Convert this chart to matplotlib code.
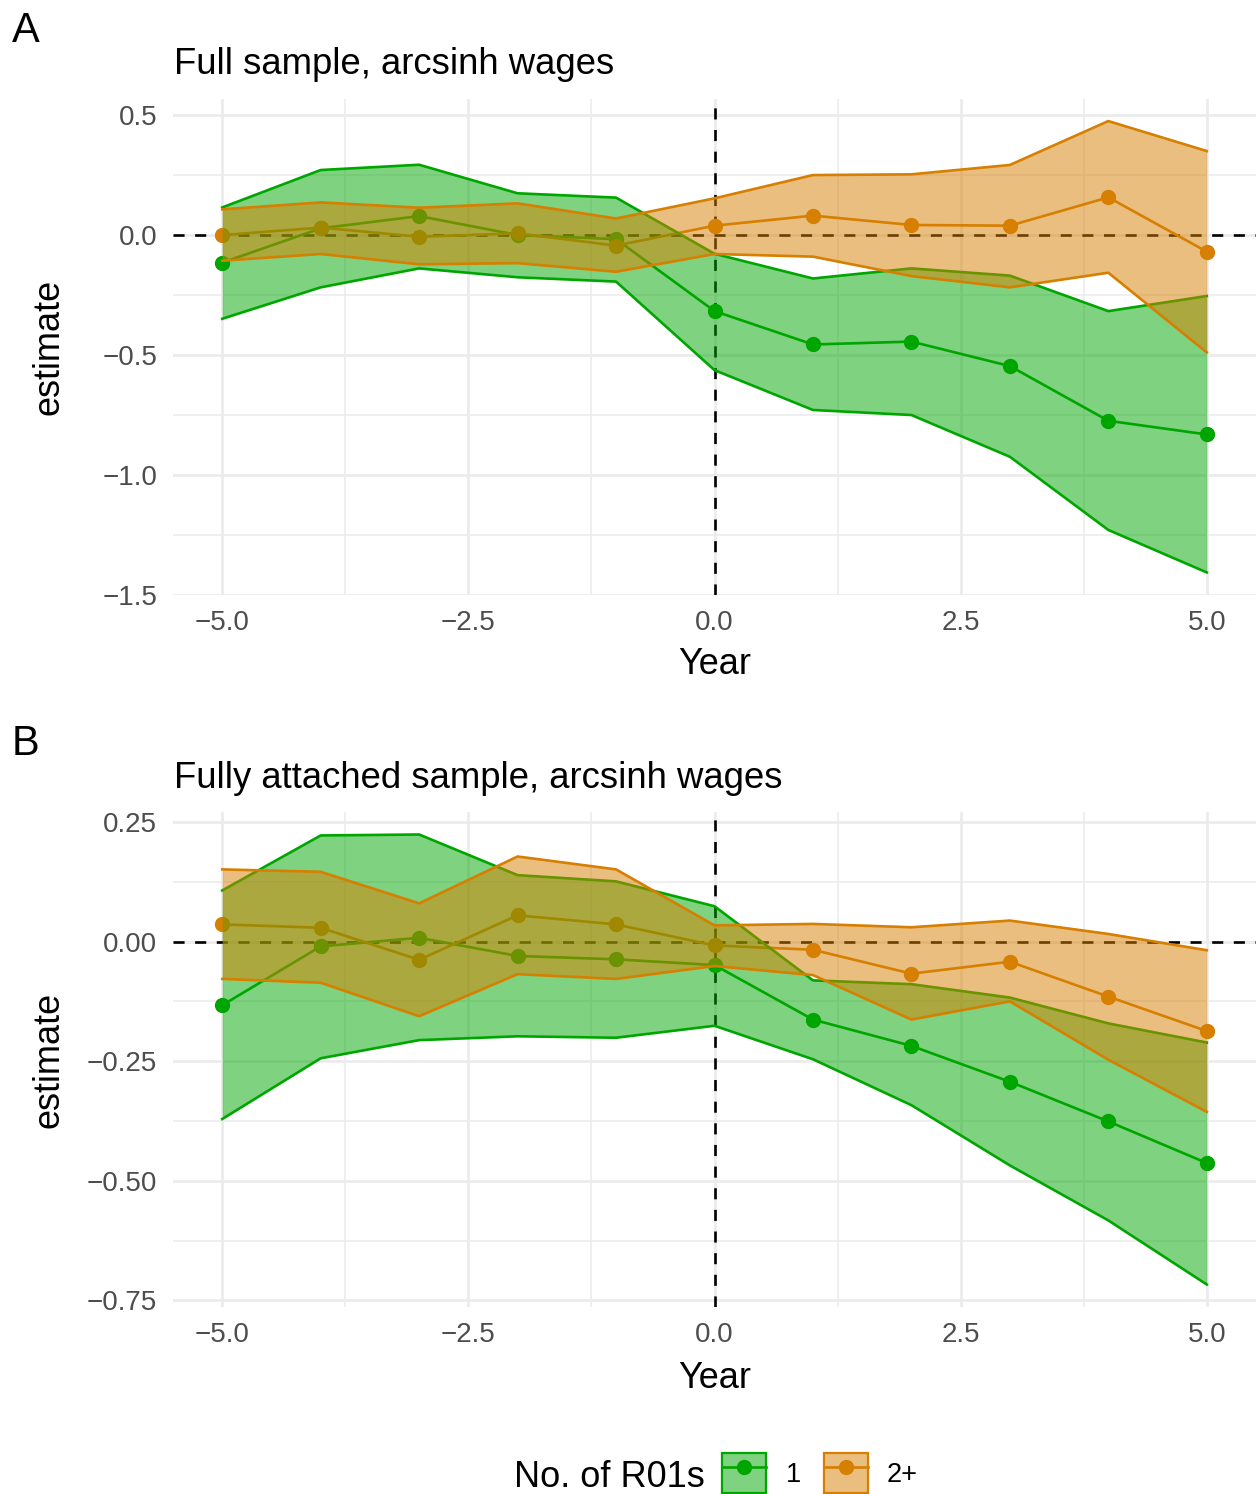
import numpy as np
import matplotlib
matplotlib.use('Agg')
import matplotlib.pyplot as plt
from matplotlib.patches import Patch
from matplotlib.lines import Line2D
from matplotlib.legend_handler import HandlerTuple
from matplotlib.ticker import FixedLocator, FuncFormatter

plt.rcParams['font.family'] = ['Liberation Sans', 'DejaVu Sans']

W, H = 1259, 1494

years = [-5, -4, -3, -2, -1, 0, 1, 2, 3, 4, 5]
groups = ['1', '2+']

# Panel A: full sample
a_est_1 = [-0.115, 0.028, 0.079, 0.0, -0.017, -0.317, -0.456, -0.444, -0.546, -0.774, -0.831]
a_hi_1 = [0.115, 0.271, 0.293, 0.174, 0.156, -0.078, -0.181, -0.139, -0.169, -0.317, -0.254]
a_lo_1 = [-0.349, -0.218, -0.139, -0.176, -0.194, -0.563, -0.729, -0.750, -0.924, -1.229, -1.406]
a_est_2 = [0.0, 0.031, -0.007, 0.007, -0.044, 0.039, 0.081, 0.042, 0.039, 0.157, -0.069]
a_hi_2 = [0.107, 0.136, 0.114, 0.132, 0.069, 0.153, 0.250, 0.253, 0.292, 0.475, 0.350]
a_lo_2 = [-0.107, -0.079, -0.122, -0.117, -0.153, -0.079, -0.090, -0.171, -0.218, -0.157, -0.489]

# Panel B: fully attached sample
b_est_1 = [-0.133, -0.010, 0.008, -0.030, -0.037, -0.049, -0.163, -0.218, -0.293, -0.376, -0.463]
b_hi_1 = [0.107, 0.222, 0.224, 0.139, 0.126, 0.074, -0.081, -0.089, -0.117, -0.171, -0.211]
b_lo_1 = [-0.371, -0.244, -0.206, -0.198, -0.201, -0.176, -0.246, -0.342, -0.468, -0.583, -0.717]
b_est_2 = [0.036, 0.029, -0.038, 0.055, 0.036, -0.008, -0.017, -0.067, -0.042, -0.115, -0.187]
b_hi_2 = [0.151, 0.146, 0.080, 0.178, 0.151, 0.034, 0.037, 0.030, 0.044, 0.016, -0.018]
b_lo_2 = [-0.078, -0.086, -0.156, -0.068, -0.078, -0.051, -0.070, -0.163, -0.125, -0.247, -0.356]

COLORS = {'1': '#00A600', '2+': '#D67F00'}
GRID = '#EBEBEB'
TICK_COLOR = '#4D4D4D'

FONT_TAG = 30
FONT_TITLE = 26.3
FONT_AXIS = 26
FONT_TICK = 20
FONT_LEG = 19.5


def fmt(decimals):
    return FuncFormatter(lambda v, p: f"{v:.{decimals}f}".replace('-', '\u2212'))


def draw_panel(ax, est, hi, lo, yticks, yminor, decimals):
    # points + lines first, ribbons (alpha) on top, like the ggplot layer order
    for g in groups:
        c = COLORS[g]
        ax.plot(years, est[g], color=c, lw=1.9, marker='o', ms=10, zorder=2)
    for i, g in enumerate(groups):
        c = COLORS[g]
        z = 3 + 2 * i
        ax.fill_between(years, lo[g], hi[g], color=c, alpha=0.5, lw=0, zorder=z)
        ax.plot(years, hi[g], color=c, lw=1.9, zorder=z + 0.5)
        ax.plot(years, lo[g], color=c, lw=1.9, zorder=z + 0.5)

    ax.axhline(0, color='black', lw=1.9, ls=(0, (4.2, 4)), zorder=1.5)
    ax.axvline(0, color='black', lw=1.9, ls=(0, (4.2, 4)), zorder=1.5)

    allv = np.concatenate([np.array(v, dtype=float) for g in groups for v in (hi[g], lo[g], est[g])])
    rng = allv.max() - allv.min()
    ax.set_ylim(allv.min() - 0.05 * rng, allv.max() + 0.05 * rng)
    ax.set_xlim(-5.5, 5.5)

    ax.xaxis.set_major_locator(FixedLocator([-5, -2.5, 0, 2.5, 5]))
    ax.xaxis.set_minor_locator(FixedLocator([-3.75, -1.25, 1.25, 3.75]))
    ax.yaxis.set_major_locator(FixedLocator(yticks))
    ax.yaxis.set_minor_locator(FixedLocator(yminor))
    ax.xaxis.set_major_formatter(fmt(1))
    ax.yaxis.set_major_formatter(fmt(decimals))

    ax.grid(True, which='major', color=GRID, lw=1.9, zorder=0)
    ax.grid(True, which='minor', color=GRID, lw=1.1, zorder=0)
    ax.set_axisbelow(True)
    for s in ax.spines.values():
        s.set_visible(False)
    ax.tick_params(axis='both', which='both', length=0, labelsize=FONT_TICK, labelcolor=TICK_COLOR)
    ax.tick_params(axis='y', pad=11.5)
    ax.tick_params(axis='x', pad=11)


fig = plt.figure(figsize=(W / 100, H / 100), dpi=100)

left = 173 / W
width = (1256 - 173) / W

axA = fig.add_axes([left, 1 - 595 / H, width, (595 - 98.5) / H])
draw_panel(axA,
           {'1': a_est_1, '2+': a_est_2},
           {'1': a_hi_1, '2+': a_hi_2},
           {'1': a_lo_1, '2+': a_lo_2},
           [-1.5, -1.0, -0.5, 0.0, 0.5], [-1.25, -0.75, -0.25, 0.25], 1)

axB = fig.add_axes([left, 1 - 1307 / H, width, (1307 - 812) / H])
draw_panel(axB,
           {'1': b_est_1, '2+': b_est_2},
           {'1': b_hi_1, '2+': b_hi_2},
           {'1': b_lo_1, '2+': b_lo_2},
           [-0.75, -0.5, -0.25, 0.0, 0.25], [-0.625, -0.375, -0.125, 0.125], 2)

xc = (173 + 1256) / 2 / W
# panel tags, titles, axis labels
fig.text(12 / W, 1 - 42 / H, 'A', fontsize=FONT_TAG, va='baseline', ha='left')
fig.text(12 / W, 1 - 755 / H, 'B', fontsize=FONT_TAG, va='baseline', ha='left')
fig.text(174 / W, 1 - 74 / H, 'Full sample, arcsinh wages', fontsize=FONT_TITLE, va='baseline')
fig.text(174 / W, 1 - 788 / H, 'Fully attached sample, arcsinh wages', fontsize=FONT_TITLE, va='baseline')
fig.text(xc, 1 - 674 / H, 'Year', fontsize=FONT_AXIS, ha='center', va='baseline')
fig.text(xc, 1 - 1388 / H, 'Year', fontsize=FONT_AXIS, ha='center', va='baseline')
fig.text(67 / W, 1 - 347 / H, 'estimate', fontsize=FONT_AXIS, rotation=90, ha='right', va='center')
fig.text(67 / W, 1 - 1060 / H, 'estimate', fontsize=FONT_AXIS, rotation=90, ha='right', va='center')

# legend at bottom
handles = []
for g in groups:
    c = COLORS[g]
    box = Patch(facecolor=matplotlib.colors.to_rgba(c, 0.5), edgecolor=c, lw=1.6)
    ln = Line2D([], [], color=c, lw=1.9, marker='o', ms=10)
    handles.append((box, ln))
fig.legend(handles, groups, loc='center left', bbox_to_anchor=(722 / W, 1 - 1473 / H),
           ncol=2, frameon=False, fontsize=FONT_LEG, handlelength=1.62, handleheight=1.95,
           handletextpad=0.72, columnspacing=0.85, borderpad=0, borderaxespad=0,
           handler_map={tuple: HandlerTuple(ndivide=1)})
fig.text(705 / W, 1 - 1487 / H, 'No. of R01s', fontsize=FONT_AXIS, ha='right', va='baseline')

fig.savefig('out.png', dpi=100)
